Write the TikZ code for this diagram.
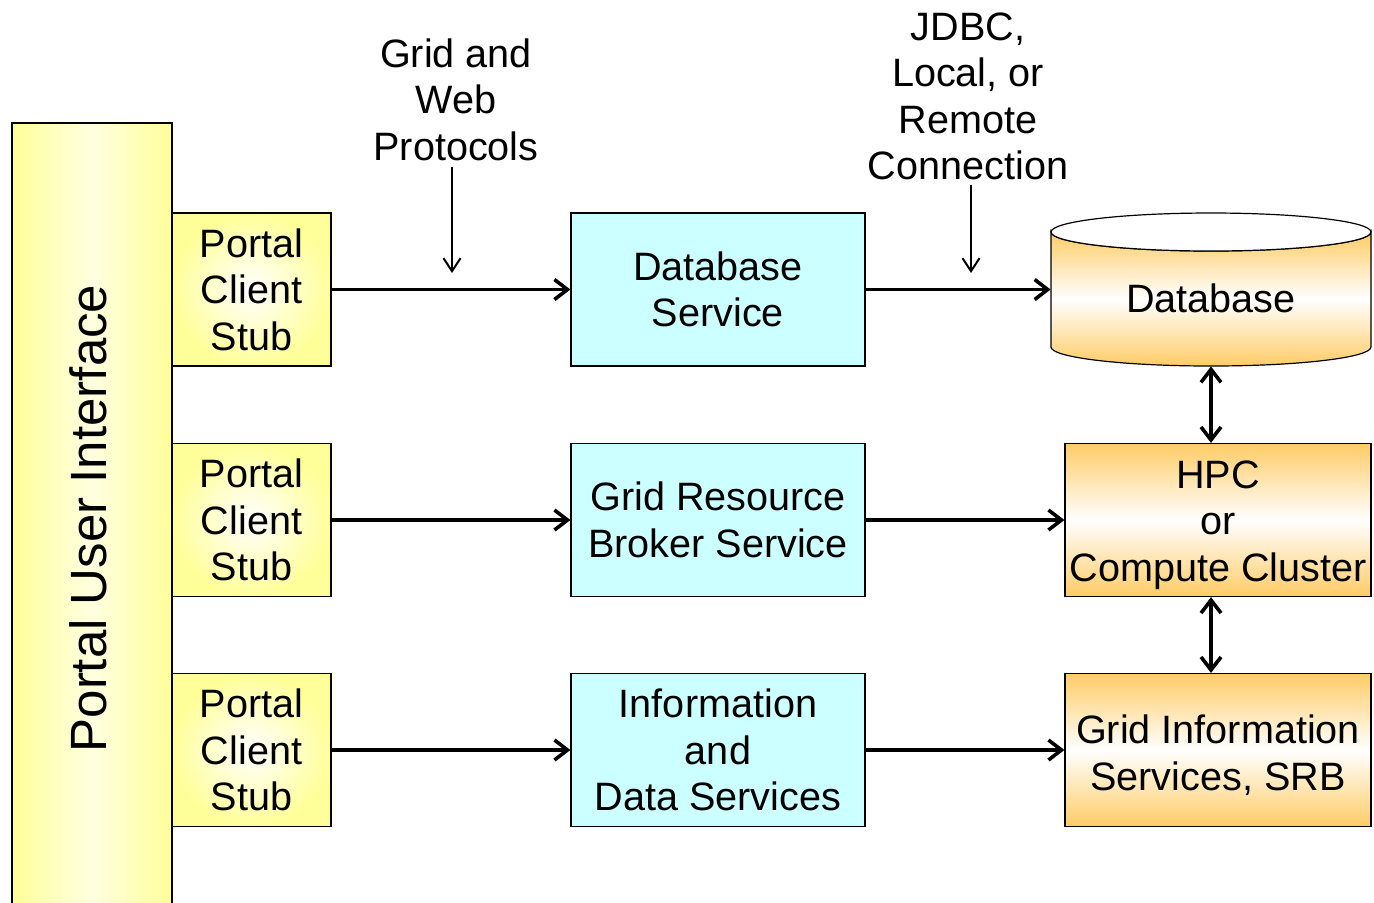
\documentclass[tikz,border=0pt]{standalone}
\usepackage{fontspec}
\setmainfont{Liberation Sans}
\usetikzlibrary{arrows.meta}
\definecolor{yel}{RGB}{255,255,153}
\definecolor{cyn}{RGB}{204,255,255}
\definecolor{orng}{RGB}{255,204,102}
\begin{document}
\begin{tikzpicture}[x=0.5pt,y=-0.5pt,
 txt/.style={font=\fontsize{19.8pt}{23.25pt}\selectfont, align=center, inner sep=0pt},
 box/.style={draw=black, line width=0.6pt, minimum height=76.5pt, inner sep=0pt, txt},
 stub/.style={box, minimum width=79.5pt, inner color=white, outer color=yel},
 svc/.style={box, minimum width=147pt, fill=cyn},
 res/.style={box, minimum width=153pt, top color=orng, bottom color=orng, middle color=white},
 conn/.style={line width=1.8pt, -{Straight Barb[length=6.5pt,width=10pt]}},
 dconn/.style={line width=1.8pt, {Straight Barb[length=6.5pt,width=10pt]}-{Straight Barb[length=6.5pt,width=10pt]}},
 note/.style={line width=1pt, -{Straight Barb[length=6.5pt,width=8.5pt]}}]
\useasboundingbox (0,0) rectangle (1374,902);

% Portal user interface
\node[box, minimum width=80pt, minimum height=391pt, left color=yel, right color=yel, middle color=yel!30!white] (ui) at (92,514) {};
\node[txt, rotate=90, font=\fontsize{25.5pt}{30pt}\selectfont] (uitext) at (88,518.5) {Portal User Interface};

% stubs
\node[stub] (s1) at (251.5,289.5) {Portal\\Client\\Stub};
\node[stub] (s2) at (251.5,520) {Portal\\Client\\Stub};
\node[stub] (s3) at (251.5,750) {Portal\\Client\\Stub};

% services
\node[svc] (v1) at (718,289.5) {Database\\Service};
\node[svc] (v2) at (718,520) {Grid Resource\\Broker Service};
\node[svc] (v3) at (718,750) {Information\\and\\Data Services};

% resources
\node[res] (hpc) at (1218,520) {};
\node[txt] (hpctext) at (1218,525) {HPC\\or\\Compute Cluster};
\node[res] (gis) at (1218,750) {};
\node[txt] (gistext) at (1218,755) {Grid Information\\Services, SRB};

% database cylinder
\path[top color=orng, bottom color=orng, middle color=white, draw, line width=0.6pt]
  (1051,232) -- (1051,347) arc[start angle=180, end angle=360, x radius=80pt, y radius=9.5pt]
  -- (1371,232) arc[start angle=0, end angle=-180, x radius=80pt, y radius=9.5pt] -- cycle;
\draw[fill=white, line width=0.6pt] (1211,232) ellipse [x radius=80pt, y radius=9.5pt];
\node[minimum width=160pt, minimum height=76.5pt, inner sep=0pt] (db) at (1211,289.5) {};
\node[txt] (dbtext) at (1211,298) {Database};

% connectors
\draw[conn] (s1.east) -- (v1.west);
\draw[conn] (s2.east) -- (v2.west);
\draw[conn] (s3.east) -- (v3.west);
\draw[conn] (v1.east) -- (v1.east -| db.west);
\draw[conn] (v2.east) -- (hpc.west);
\draw[conn] (v3.east) -- (gis.west);
\draw[dconn] (db.south) -- (db.south |- hpc.north);
\draw[dconn] (hpc.south -| db.south) -- (db.south |- gis.north);

% annotations
\node[txt] (gw) at (456,99.5) {Grid and\\Web\\Protocols};
\node[txt] (jdbc) at (968,96.5) {JDBC,\\Local, or\\Remote\\Connection};
\coordinate (gwend) at (452,273);
\coordinate (jend) at (971,273);
\draw[note] ([yshift=-3pt]gw.south -| gwend) -- (gwend);
\draw[note] ([yshift=-2pt]jdbc.south -| jend) -- (jend);
\end{tikzpicture}
\end{document}
